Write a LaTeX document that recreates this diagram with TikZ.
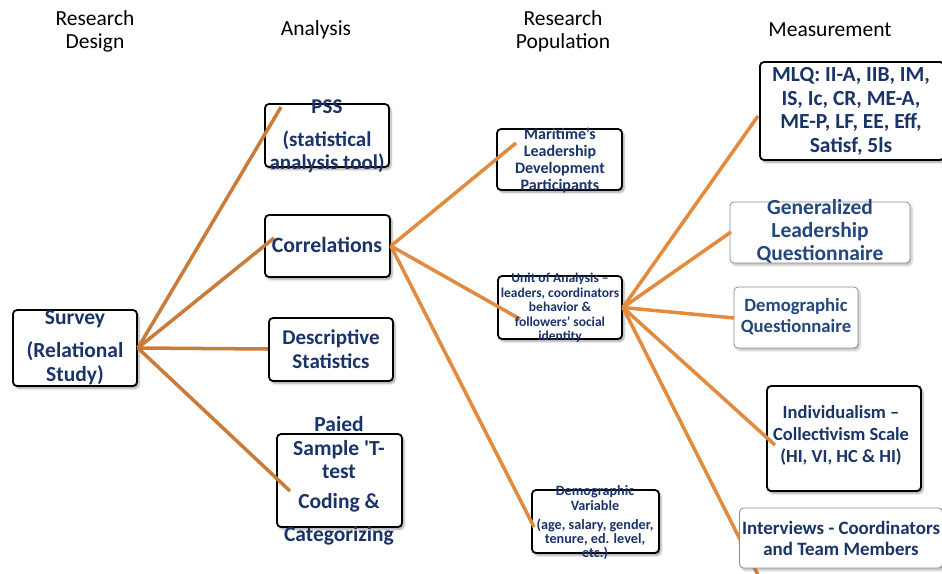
\documentclass[tikz,border=0pt]{standalone}
\usepackage{fontspec}
\setmainfont{Carlito}
\usetikzlibrary{shadows.blur}
\definecolor{navy}{HTML}{1A3368}
\definecolor{navylight}{HTML}{24487E}
\definecolor{orangeline}{HTML}{E28A3E}
\definecolor{brownline}{HTML}{C97B3A}
\tikzset{
  boxdark/.style={draw=black, line width=1.8pt, rounded corners=4pt, fill=white,
    blur shadow={shadow blur steps=6, shadow xshift=2pt, shadow yshift=-2.5pt, shadow opacity=35}},
  boxlight/.style={draw=black!45, line width=0.8pt, rounded corners=4pt, fill=white,
    blur shadow={shadow blur steps=6, shadow xshift=2pt, shadow yshift=-2.5pt, shadow opacity=25}},
  head/.style={font=\fontsize{21.5}{23}\selectfont, text=black, align=center},
  lbl/.style 2 args={font=\bfseries\fontsize{#1}{#2}\selectfont, text=navy, align=center, inner sep=0pt},
  survline/.style={draw=brownline, line width=3.5pt},
  link/.style={draw=orangeline, line width=3.5pt},
}
\begin{document}
\begin{tikzpicture}[x=1pt, y=-1pt]
\useasboundingbox (0,0) rectangle (942,573);

% column headings
\node[head] (hdesign) at (95,31) {Research\\Design};
\node[head] (hanalysis) at (316,30) {Analysis};
\node[head] (hpop) at (563,31) {Research\\Population};
\node[head] (hmeas) at (830,30) {Measurement};

% boxes
\node[boxdark, minimum width=124pt, minimum height=76pt] (survey) at (75,348) {};
\node[boxdark, minimum width=124pt, minimum height=63pt] (pss) at (327,135.5) {};
\node[boxdark, minimum width=125pt, minimum height=62pt] (corr) at (327.5,246) {};
\node[boxdark, minimum width=124pt, minimum height=63pt] (desc) at (331,349.5) {};
\node[boxdark, minimum width=125pt, minimum height=93pt] (ttest) at (339.5,480.5) {};
\node[boxdark, minimum width=125pt, minimum height=61pt] (marit) at (559.5,159.5) {};
\node[boxdark, minimum width=124pt, minimum height=63pt] (unit) at (560,307.5) {};
\node[boxdark, minimum width=127pt, minimum height=63pt] (demvar) at (595.5,521.5) {};
\node[boxdark, minimum width=184pt, minimum height=98pt] (mlq) at (852,111) {};
\node[boxlight, minimum width=180pt, minimum height=61pt] (glq) at (820,232.5) {};
\node[boxlight, minimum width=124pt, minimum height=61pt] (demq) at (796,317.5) {};
\node[boxdark, minimum width=154pt, minimum height=105pt] (indiv) at (844,438.5) {};

% free ends of the connectors inside the target boxes
\coordinate (pssEnd) at (281,107);
\coordinate (corrEnd) at (274,238);
\coordinate (descEnd) at (268,349);
\coordinate (ttestEnd) at (290,491);
\coordinate (maritEnd) at (516,143);
\coordinate (unitEnd) at (520,319);
\coordinate (demvarEnd) at (534,527);
\coordinate (mlqEnd) at (758,116);
\coordinate (glqEnd) at (731,232);
\coordinate (demqEnd) at (734,318);
\coordinate (indivEnd) at (775,445);
\coordinate (intEnd) at (758,575);

% connectors
\draw[survline] (survey.east) -- (pssEnd);
\draw[survline] (survey.east) -- (corrEnd);
\draw[survline] (survey.east) -- (descEnd);
\draw[survline] (survey.east) -- (ttestEnd);
\draw[link] (corr.east) -- (maritEnd);
\draw[link] (corr.east) -- (unitEnd);
\draw[link] (corr.east) -- (demvarEnd);
\draw[link] (unit.east) -- (mlqEnd);
\draw[link] (unit.east) -- (glqEnd);
\draw[link] (unit.east) -- (demqEnd);
\draw[link] (unit.east) -- (indivEnd);
\draw[link] (unit.east) -- (intEnd);

% interviews box sits over its connector
\node[boxlight, minimum width=203pt, minimum height=60pt] (interv) at (841,538) {};

% labels
\node[lbl={21.5}{24}] (tsurvey1) at (75,319) {Survey};
\node[lbl={21.5}{24}] (tsurvey2) at (75,351) {(Relational};
\node[lbl={21.5}{24}] (tsurvey3) at (75,375) {Study)};

\node[lbl={21}{24}] (tpss1) at (327,107) {PSS};
\node[lbl={21}{24}] (tpss2) at (327,140) {(statistical};
\node[lbl={21}{24}] (tpss3) at (327,163) {analysis tool)};

\node[lbl={21.8}{24}] (tcorr) at (327,245) {Correlations};

\node[lbl={21}{24}] (tdesc) at (331,349) {Descriptive\\Statistics};

\node[lbl={21.5}{23.5}] (tt1) at (339,448) {Paied\\Sample \textquotesingle T-\\test};
\node[lbl={21.5}{24}] (tt2) at (339,503) {Coding \&};
\node[lbl={21.5}{24}] (tt3) at (339,536) {Categorizing};

\node[lbl={16}{17}] (tmarit) at (560,160) {Maritime’s\\Leadership\\Development\\Participants};

\node[lbl={13.5}{14.4}] (tunit) at (560,308) {Unit of Analysis –\\leaders, coordinators\\behavior \&\\followers’ social\\identity};

\node[lbl={14.2}{14.2}] (tdemvar1) at (595,498) {Demographic\\Variable};
\node[lbl={14.2}{14.2}] (tdemvar2) at (595,539) {(age, salary, gender,\\tenure, ed. level,\\etc.)};

\node[lbl={21.5}{23.8}] (tmlq) at (851,111.5) {MLQ: II-A, IIB, IM,\\IS, Ic, CR, ME-A,\\ME-P, LF, EE, Eff,\\Satisf, 5ls};

\node[lbl={21.5}{23}, text=navylight] (tglq) at (820,231) {Generalized\\Leadership\\Questionnaire};

\node[lbl={18.7}{21}, text=navylight] (tdemq) at (796,316.5) {Demographic\\Questionnaire};

\node[lbl={18.5}{22}] (tindiv) at (841,435) {Individualism –\\Collectivism Scale\\(HI, VI, HC \& HI)};

\node[lbl={18.9}{21}] (tinterv) at (841,538.5) {Interviews - Coordinators\\and Team Members};
\end{tikzpicture}
\end{document}
